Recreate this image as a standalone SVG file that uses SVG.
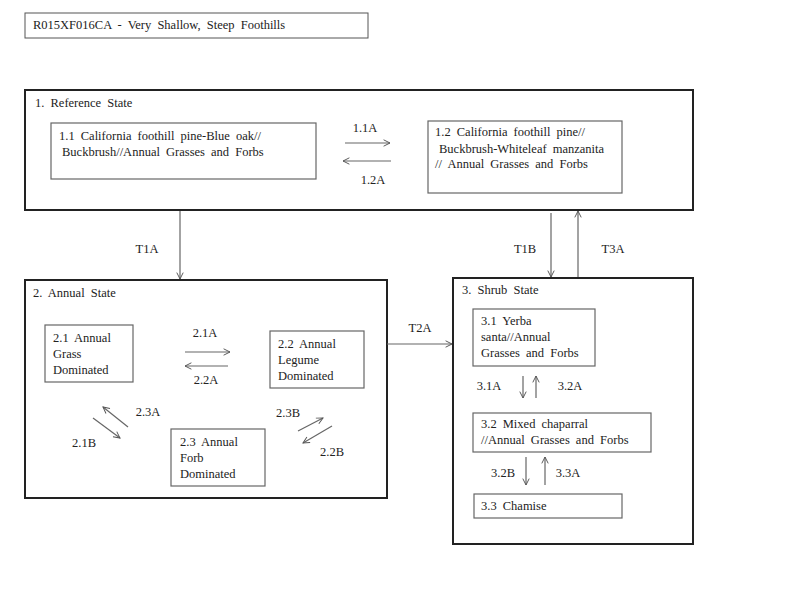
<svg xmlns="http://www.w3.org/2000/svg" width="800" height="600" viewBox="0 0 800 600">
<defs>
<marker id="ah" viewBox="0 0 10 10" refX="9" refY="5" markerWidth="8" markerHeight="8" markerUnits="userSpaceOnUse" orient="auto">
<path d="M1,1 L9,5 L1,9" fill="none" stroke="#555" stroke-width="1.2"/>
</marker>
</defs>
<style>
text{font-family:"Liberation Serif","DejaVu Serif",serif;font-size:12.5px;fill:#222;word-spacing:3px}
.state{fill:none;stroke:#222;stroke-width:2}
.comm{fill:#fff;stroke:#666;stroke-width:1.2}
.title{fill:#fff;stroke:#555;stroke-width:1}
.c line{stroke:#666;stroke-width:1.2;marker-end:url(#ah)}
.m{text-anchor:middle}
</style>
<rect width="800" height="600" fill="#fff"/>
<g font-family="Liberation Serif, serif">
<g id="title">
<rect class="title" x="25" y="13" width="343" height="25"/>
<text x="33" y="29">R015XF016CA - Very Shallow, Steep Foothills</text>
</g>
<g id="state1">
<rect class="state" x="25" y="90" width="668" height="120"/>
<text x="35" y="107">1.  Reference State</text>
</g>
<g id="c11">
<rect class="comm" x="51" y="123" width="265" height="56"/>
<text x="59" y="140">1.1 California foothill pine-Blue oak//</text>
<text x="62" y="156">Buckbrush//Annual Grasses and Forbs</text>
</g>
<g id="c12">
<rect class="comm" x="428" y="121" width="194" height="72"/>
<text x="435" y="136">1.2 California foothill pine//</text>
<text x="439" y="153">Buckbrush-Whiteleaf manzanita</text>
<text x="435" y="168">// Annual Grasses and Forbs</text>
</g>
<g id="state2">
<rect class="state" x="25" y="280" width="362" height="218"/>
<text x="33" y="297">2.  Annual State</text>
</g>
<g id="c21">
<rect class="comm" x="45" y="325" width="88" height="57"/>
<text x="53" y="342">2.1 Annual</text>
<text x="53" y="358">Grass</text>
<text x="53" y="374">Dominated</text>
</g>
<g id="c22">
<rect class="comm" x="270" y="331" width="94" height="57"/>
<text x="278" y="348">2.2 Annual</text>
<text x="278" y="364">Legume</text>
<text x="278" y="380">Dominated</text>
</g>
<g id="c23">
<rect class="comm" x="171" y="429" width="94" height="57"/>
<text x="180" y="446">2.3 Annual</text>
<text x="180" y="462">Forb</text>
<text x="180" y="478">Dominated</text>
</g>
<g id="state3">
<rect class="state" x="453" y="278" width="240" height="266"/>
<text x="462" y="294">3.  Shrub State</text>
</g>
<g id="c31">
<rect class="comm" x="473" y="309" width="122" height="57"/>
<text x="481" y="325">3.1 Yerba</text>
<text x="481" y="341">santa//Annual</text>
<text x="481" y="357">Grasses and Forbs</text>
</g>
<g id="c32">
<rect class="comm" x="473" y="413" width="178" height="39"/>
<text x="481" y="428">3.2 Mixed chaparral</text>
<text x="481" y="444">//Annual Grasses and Forbs</text>
</g>
<g id="c33">
<rect class="comm" x="474" y="494" width="148" height="24"/>
<text x="481" y="510">3.3 Chamise</text>
</g>
<g id="connectors" class="c">
<line x1="345" y1="143" x2="390" y2="143"/>
<line x1="391" y1="161" x2="343" y2="161"/>
<line x1="180" y1="211" x2="180" y2="279"/>
<line x1="551" y1="213" x2="551" y2="277"/>
<line x1="578" y1="277" x2="578" y2="211"/>
<line x1="387" y1="344" x2="452" y2="344"/>
<line x1="185" y1="352" x2="230" y2="352"/>
<line x1="228" y1="366" x2="185" y2="366"/>
<line x1="128" y1="427" x2="103" y2="407"/>
<line x1="93" y1="418" x2="120" y2="438"/>
<line x1="298" y1="431" x2="323" y2="418"/>
<line x1="332" y1="426" x2="303" y2="443"/>
<line x1="523" y1="376" x2="523" y2="398"/>
<line x1="536" y1="398" x2="536" y2="376"/>
<line x1="526" y1="457" x2="526" y2="485"/>
<line x1="545" y1="485" x2="545" y2="457"/>
</g>
<g id="labels">
<text class="m" x="365" y="132">1.1A</text>
<text class="m" x="373" y="184">1.2A</text>
<text class="m" x="147" y="253">T1A</text>
<text class="m" x="525" y="253">T1B</text>
<text class="m" x="613" y="253">T3A</text>
<text class="m" x="420" y="332">T2A</text>
<text class="m" x="205" y="337">2.1A</text>
<text class="m" x="206" y="384">2.2A</text>
<text class="m" x="148" y="416">2.3A</text>
<text class="m" x="84" y="447">2.1B</text>
<text class="m" x="288" y="417">2.3B</text>
<text class="m" x="332" y="456">2.2B</text>
<text class="m" x="489" y="390">3.1A</text>
<text class="m" x="570" y="390">3.2A</text>
<text class="m" x="503" y="477">3.2B</text>
<text class="m" x="568" y="477">3.3A</text>
</g>
</g>
</svg>
